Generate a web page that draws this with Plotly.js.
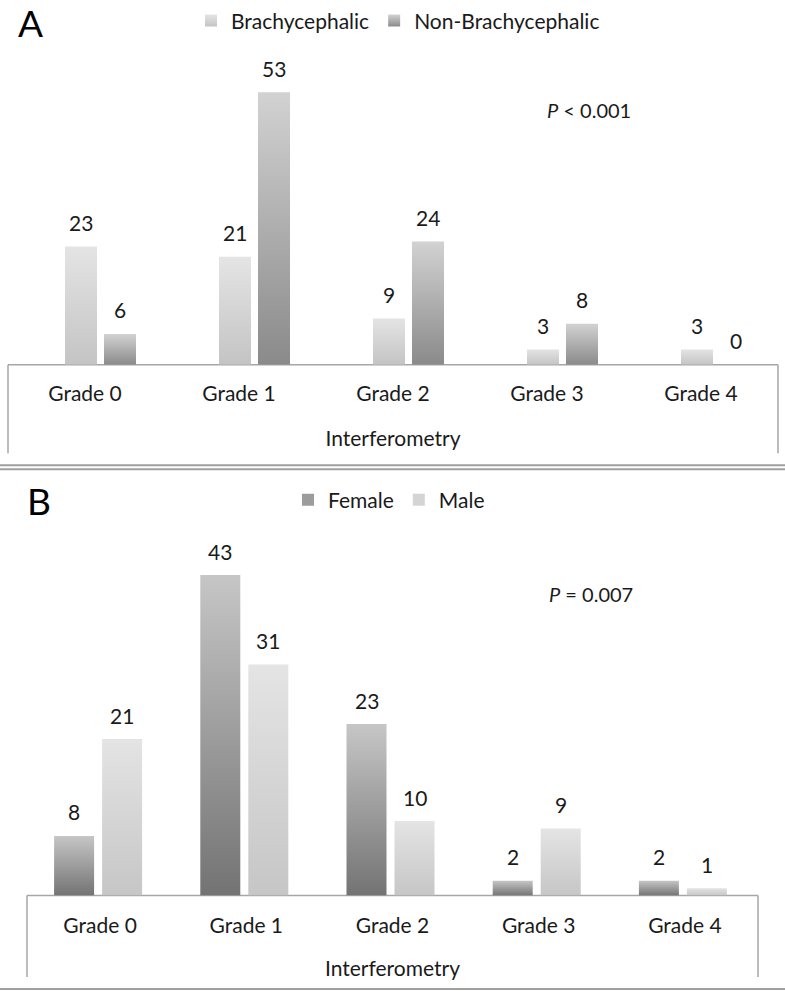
<!DOCTYPE html>
<html>
<head>
<meta charset="utf-8">
<script src="https://cdn.plot.ly/plotly-3.0.1.min.js"></script>
<style>
  html, body { margin: 0; padding: 0; background: #fff; }
  #chart { width: 785px; height: 991px; }
</style>
</head>
<body>
<div id="chart"></div>
<script>
// ---------- data ----------
const grades = ["Grade 0", "Grade 1", "Grade 2", "Grade 3", "Grade 4"];
const brachycephalic = [23, 21, 9, 3, 3];
const nonBrachycephalic = [6, 53, 24, 8, 0];
const female = [8, 43, 23, 2, 2];
const male = [21, 31, 10, 9, 1];
const axisTitle = "Interferometry";
const pA = "<i>P</i> < 0.001";
const pB = "<i>P</i> = 0.007";

// ---------- layout helpers ----------
const W = 785, H = 991;
const px = v => v / W;
const py = v => 1 - v / H;
const FONT = "Lato, 'Open Sans', sans-serif";
const TXT = "#1a1a1a";

// category widths in px (for converting pixel offsets to category units)
const catA = (778 - 8) / 5, catB = (758 - 27) / 5;
const wA = 32, wB = 40;            // bar widths, px
const cA = [-4, 35], cB = [-26, 22]; // bar centre offsets from category centre, px

const grad = {
  brachy: ["#e4e4e4", "#c4c4c4"],
  non:    ["#d2d2d2", "#8a8a8a"],
  female: ["#c6c6c6", "#737373"],
  male:   ["#e4e4e4", "#c6c6c6"]
};

function barTrace(name, vals, ax, ay, leg, color, cat, w, c) {
  return {type: "bar", name: name, x: grades, y: vals, xaxis: ax, yaxis: ay, legend: leg,
          marker: {color: color}, width: w / cat, offset: (c - w / 2) / cat, hoverinfo: "skip"};
}
const data = [
  barTrace("Brachycephalic", brachycephalic, "x", "y", "legend", "#d4d4d4", catA, wA, cA[0]),
  barTrace("Non-Brachycephalic", nonBrachycephalic, "x", "y", "legend", "#adadad", catA, wA, cA[1]),
  barTrace("Female", female, "x2", "y2", "legend2", "#9c9c9c", catB, wB, cB[0]),
  barTrace("Male", male, "x2", "y2", "legend2", "#d4d4d4", catB, wB, cB[1])
];
const gradKeys = ["brachy", "non", "female", "male"];

// value labels as annotations anchored to the data
const annotations = [];
function addLabels(vals, xref, yref, shift) {
  vals.forEach((v, i) => annotations.push({
    x: grades[i], y: v, xref: xref, yref: yref, text: String(v),
    showarrow: false, xshift: shift, yshift: 24, yanchor: "middle",
    font: {family: FONT, size: 21, color: TXT}
  }));
}
addLabels(brachycephalic, "x", "y", cA[0]);
addLabels(nonBrachycephalic, "x", "y", cA[1]);
addLabels(female, "x2", "y2", cB[0]);
addLabels(male, "x2", "y2", cB[1]);

annotations.push(
  {text: "A", xref: "paper", yref: "paper", x: px(16), y: py(17), xanchor: "left", yanchor: "middle",
   showarrow: false, font: {family: FONT, size: 37, color: "#000"}},
  {text: "B", xref: "paper", yref: "paper", x: px(25), y: py(498), xanchor: "left", yanchor: "middle",
   showarrow: false, font: {family: FONT, size: 37, color: "#000"}},
  {text: pA, xref: "paper", yref: "paper", x: px(589), y: py(105), xanchor: "center", yanchor: "middle",
   showarrow: false, font: {family: FONT, size: 20, color: TXT}},
  {text: pB, xref: "paper", yref: "paper", x: px(591), y: py(592), xanchor: "center", yanchor: "middle",
   showarrow: false, font: {family: FONT, size: 20, color: TXT}}
);

const lineCol = "#a6a6a6";
function seg(x0, y0, x1, y1, w, c) {
  return {type: "line", xref: "paper", yref: "paper", x0: px(x0), y0: py(y0), x1: px(x1), y1: py(y1),
          line: {color: c || lineCol, width: w || 1.5}, layer: "below"};
}
const shapes = [
  // panel A category box
  seg(8, 361, 778, 361), seg(8, 361, 8, 450), seg(778, 361, 778, 450),
  // double separator
  seg(0, 462, 785, 462, 2, "#a0a0a0"), seg(0, 466, 785, 466, 2, "#a0a0a0"),
  // panel B category box
  seg(27, 895, 758, 895), seg(27, 895, 27, 977), seg(758, 895, 758, 977),
  seg(0, 989, 785, 989, 2, "#a0a0a0")
];

function xAxis(domain, anchor, standoffLbl, standoffTitle) {
  return {
    type: "category", domain: domain, anchor: anchor,
    showgrid: false, zeroline: false, showline: false, ticks: "",
    tickfont: {family: FONT, size: 21, color: TXT}, ticklabelstandoff: standoffLbl, fixedrange: true,
    title: {text: axisTitle, font: {family: FONT, size: 21, color: TXT}, standoff: standoffTitle}
  };
}

const layout = {
  width: W, height: H,
  margin: {l: 0, r: 0, t: 0, b: 0},
  paper_bgcolor: "#fff", plot_bgcolor: "rgba(0,0,0,0)",
  barmode: "overlay",
  showlegend: true,
  font: {family: FONT, color: TXT},
  xaxis: xAxis([px(8), px(778)], "y", 14, 27),
  yaxis: {domain: [py(361), py(61)], range: [0, 58], visible: false, fixedrange: true},
  xaxis2: xAxis([px(27), px(758)], "y2", 15, 25),
  yaxis2: {domain: [py(895), py(535)], range: [0, 48], visible: false, fixedrange: true},
  legend: {orientation: "h", x: px(398), xanchor: "center", y: py(15), yanchor: "middle",
           font: {family: FONT, size: 21, color: TXT}, itemwidth: 30, bgcolor: "rgba(0,0,0,0)",
           traceorder: "normal"},
  legend2: {orientation: "h", x: px(389), xanchor: "center", y: py(497), yanchor: "middle",
           font: {family: FONT, size: 21, color: TXT}, itemwidth: 30, bgcolor: "rgba(0,0,0,0)",
           traceorder: "normal"},
  annotations: annotations,
  shapes: shapes
};

const gd = document.getElementById("chart");
Plotly.newPlot(gd, data, layout, {staticPlot: true, displayModeBar: false}).then(applyGradients);

function applyGradients() {
  const svg = gd.querySelector("svg.main-svg");
  const NS = "http://www.w3.org/2000/svg";
  let defs = svg.querySelector("defs");
  if (!defs) { defs = document.createElementNS(NS, "defs"); svg.insertBefore(defs, svg.firstChild); }
  Object.keys(grad).forEach(k => {
    const lg = document.createElementNS(NS, "linearGradient");
    lg.setAttribute("id", "grad-" + k);
    lg.setAttribute("x1", "0"); lg.setAttribute("y1", "0");
    lg.setAttribute("x2", "0"); lg.setAttribute("y2", "1");
    [[0, grad[k][0]], [1, grad[k][1]]].forEach(([o, c]) => {
      const st = document.createElementNS(NS, "stop");
      st.setAttribute("offset", o); st.setAttribute("stop-color", c);
      lg.appendChild(st);
    });
    defs.appendChild(lg);
  });
  gd.querySelectorAll(".barlayer .trace").forEach(tr => {
    const d = tr.__data__;
    const idx = d && d[0] && d[0].trace ? d[0].trace.index : null;
    if (idx === null || idx === undefined) return;
    tr.querySelectorAll("path").forEach(p => { p.style.fill = "url(#grad-" + gradKeys[idx] + ")"; });
  });
  gd.querySelectorAll(".legend .traces").forEach(tr => {
    const d = tr.__data__;
    const t = d && d[0] && d[0].trace;
    if (!t) return;
    tr.querySelectorAll(".legendpoints path").forEach(p => { p.style.fill = "url(#grad-" + gradKeys[t.index] + ")"; });
  });
}
</script>
</body>
</html>
